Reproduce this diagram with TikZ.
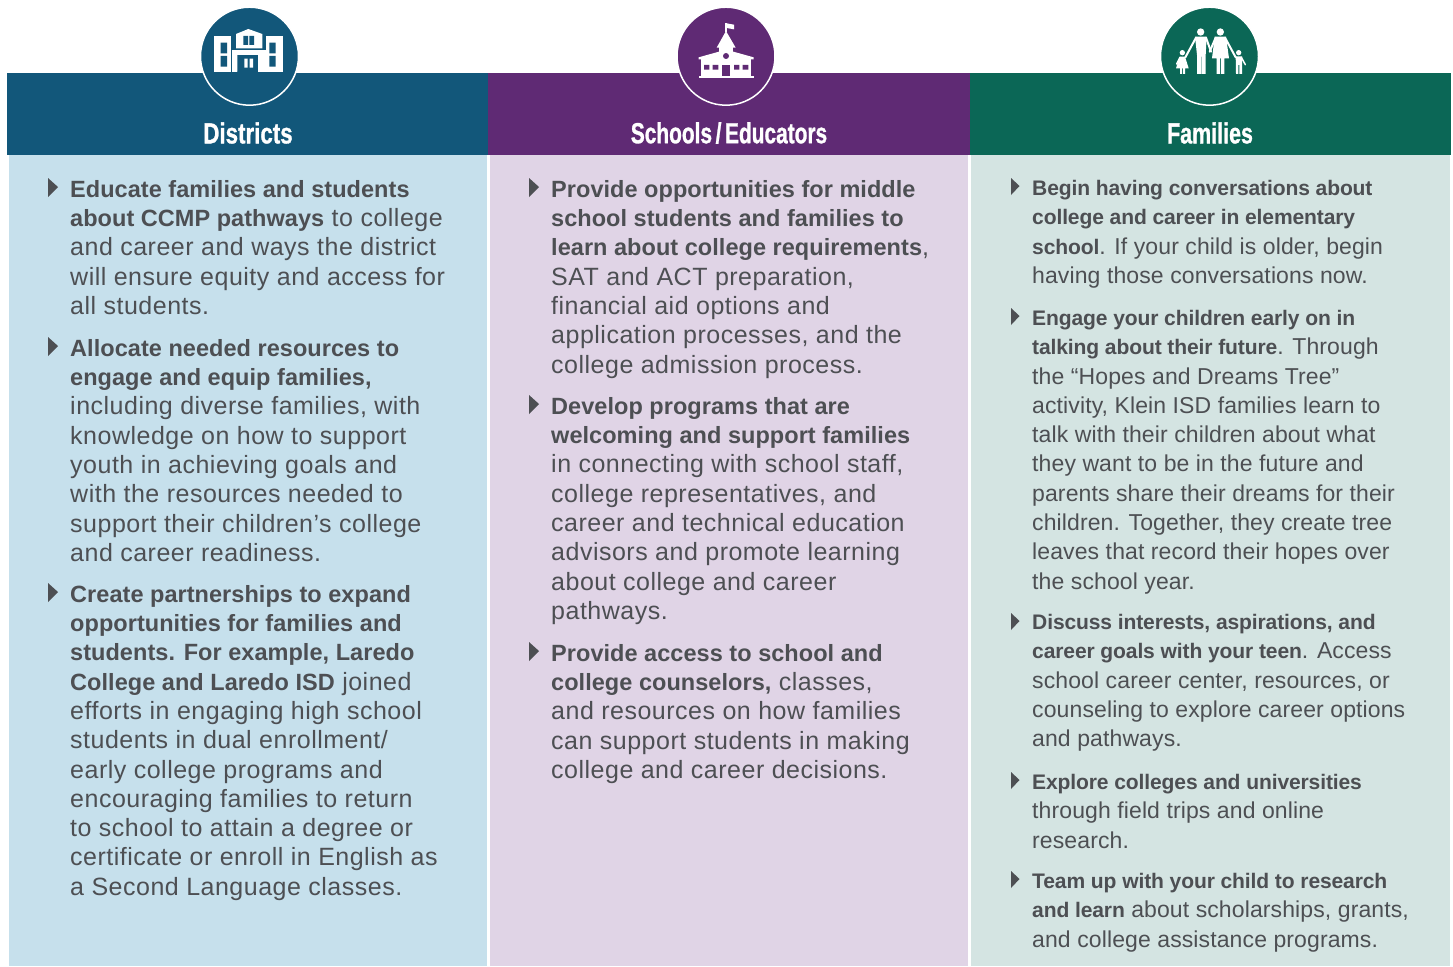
\documentclass[tikz,border=0pt]{standalone}
\usepackage{fontspec}
\setmainfont{Liberation Sans}[LetterSpace=2,BoldFeatures={LetterSpace=0.2,Scale=0.94}]
\newfontfamily\famC{Liberation Sans}[LetterSpace=0.5,BoldFeatures={LetterSpace=-0.6,Scale=0.915}]
\newfontfamily\famH{Liberation Sans Bold}[FakeBold=1.2]
\definecolor{barA}{HTML}{12577A}
\definecolor{barB}{HTML}{5F2A74}
\definecolor{barC}{HTML}{0B6756}
\definecolor{panA}{HTML}{C6E0EC}
\definecolor{panB}{HTML}{E0D4E6}
\definecolor{panC}{HTML}{D4E4E2}
\definecolor{ink}{HTML}{4D4F53}
\tikzset{
 itemA/.style={anchor=north west,inner sep=0pt,yshift=20pt,align=left,text=ink,font=\fontsize{25}{29.3}\selectfont,execute at begin node=\rule{0pt}{20pt}},
 itemC/.style={itemA,font=\famC\fontsize{23}{29.3}\selectfont},
 head/.style={text=white,inner sep=0pt,font=\famH\fontsize{29}{32}\selectfont},
 badge/.style={circle,minimum size=98pt,inner sep=0pt,draw=white,line width=1.5pt},
 tri/.style={fill=ink,draw=none},
 ico/.style={fill=white,draw=none},
}
\newcommand{\hd}[2]{\scalebox{#1}[1]{#2}}
\newcommand{\bul}[2]{\fill[tri] (#1,#2-10) -- (#1+10,#2-1) -- (#1,#2+9) -- cycle;}
\newcommand{\bulc}[2]{\fill[tri] (#1,#2-9) -- (#1+8.5,#2-1) -- (#1,#2+8) -- cycle;}
\begin{document}
\begin{tikzpicture}[x=1pt,y=-1pt]
\useasboundingbox (0,0) rectangle (1453,966);
\fill[white] (0,0) rectangle (1453,966);
% panels
\fill[panA] (9,155) rectangle (487,966);
\fill[panB] (490,155) rectangle (968,966);
\fill[panC] (971,155) rectangle (1450,966);
% bars
\fill[barA] (7,73) rectangle (488,155);
\fill[barB] (488,73) rectangle (970,155);
\fill[barC] (970,73) rectangle (1451,155);
% badges
\node[badge,fill=barA] (ba) at (249.5,56.2) {};
\node[badge,fill=barB] (bb) at (726,56.2) {};
\node[badge,fill=barC] (bc) at (1209.5,56.2) {};
% headings
\node[head] (ha) at (248,133) {\hd{.77}{Districts}};
\node[head] (hb) at (729,133) {\hd{.72}{Schools\hspace{5pt}/\hspace{5pt}Educators}};
\node[head] (hc) at (1210,133) {\hd{.74}{Families}};
% district icon
\begin{scope}[shift={(180,0)},scale=1/3]
\fill[ico] (103,108) rectangle (153,215);
\fill[ico] (258,108) rectangle (308,215);
\fill[barA] (122,128) rectangle (141,160) (122,168) rectangle (141,200);
\fill[barA] (268,128) rectangle (287,160) (268,168) rectangle (287,200);
\fill[ico] (168,102) -- (205,87) -- (247,102) -- (247,145) -- (168,145) -- cycle;
\fill[barA] (190,108) rectangle (204,135) (208,108) rectangle (222,135);
\fill[ico] (157,149) rectangle (258,215);
\fill[barA] (172,165) rectangle (235,215);
\fill[ico] (160,152) rectangle (172,215) (235,152) rectangle (255,215);
\fill[ico] (193,176) rectangle (203,203) (209,176) rectangle (219,203);
\end{scope}
% school icon
\begin{scope}[shift={(620,0)},scale=1/3]
\fill[ico] (316,68) rectangle (320,96);
\fill[ico] (320,70) -- (342,74) -- (342,88) -- (320,84) -- cycle;
\fill[ico] (318,93) -- (347,143) -- (290,143) -- cycle;
\fill[ico] (297,140) rectangle (340,160);
\fill[ico] (236,172) -- (297,155) -- (340,155) -- (401,172) -- (401,178) -- (236,178) -- cycle;
\fill[ico] (243,176) rectangle (393,228);
\fill[ico] (236,228) rectangle (401,234);
\fill[barB] (318,168) circle (9);
\fill[barB] (252,195) rectangle (268,209) (278,195) rectangle (295,209) (342,195) rectangle (358,209) (368,195) rectangle (385,209);
\fill[barB] (305,195) rectangle (330,228);
\end{scope}
% family icon
\begin{scope}[shift={(1140,0)},scale=1/3]
\fill[ico] (182,96) circle (11) (241,96) circle (11) (127,158) circle (8) (296,158) circle (8);
\fill[ico] (165,110) -- (200,110) -- (197,165) -- (197,222) -- (185,222) -- (185,170) -- (183,170) -- (183,222) -- (171,222) -- (171,165) -- cycle;
\fill[ico] (224,110) -- (258,110) -- (267,175) -- (253,175) -- (253,222) -- (243,222) -- (243,175) -- (240,175) -- (240,222) -- (230,222) -- (230,175) -- (216,175) -- cycle;
\draw[white,line width=2pt,line cap=round] (168,113) -- (136,172);
\draw[white,line width=2pt,line cap=round] (198,113) -- (213,155);
\draw[white,line width=2pt,line cap=round] (227,113) -- (209,155);
\draw[white,line width=2pt,line cap=round] (255,113) -- (287,172);
\fill[ico] (119,170) -- (135,170) -- (146,205) -- (135,205) -- (135,222) -- (129,222) -- (129,205) -- (126,205) -- (126,222) -- (120,222) -- (120,205) -- (108,205) -- cycle;
\draw[white,line width=1.5pt,line cap=round] (120,172) -- (110,192);
\fill[ico] (287,169) -- (306,169) -- (306,222) -- (298,222) -- (298,195) -- (295,195) -- (295,222) -- (288,222) -- cycle;
\draw[white,line width=1.5pt,line cap=round] (304,172) -- (316,194);
\end{scope}
% column A
\bul{48}{188}
\node[itemA] (a1) at (70,200) {\textbf{Educate families and students}\\\textbf{about CCMP pathways} to college\\and career and ways the district\\will ensure equity and access for\\all students.};
\bul{48}{347}
\node[itemA] (a2) at (70,359) {\textbf{Allocate needed resources to}\\\textbf{engage and equip families,}\\including diverse families, with\\knowledge on how to support\\youth in achieving goals and\\with the resources needed to\\support their children’s college\\and career readiness.};
\bul{48}{593}
\node[itemA] (a3) at (70,605) {\textbf{Create partnerships to expand}\\\textbf{opportunities for families and}\\\textbf{students. For example, Laredo}\\\textbf{College and Laredo ISD} joined\\efforts in engaging high school\\students in dual enrollment/\\early college programs and\\encouraging families to return\\to school to attain a degree or\\certificate or enroll in English as\\a Second Language classes.};
% column B
\bul{529}{188}
\node[itemA] (b1) at (551,200) {\textbf{Provide opportunities for middle}\\\textbf{school students and families to}\\\textbf{learn about college requirements},\\SAT and ACT preparation,\\financial aid options and\\application processes, and the\\college admission process.};
\bul{529}{405}
\node[itemA] (b2) at (551,417) {\textbf{Develop programs that are}\\\textbf{welcoming and support families}\\in connecting with school staff,\\college representatives, and\\career and technical education\\advisors and promote learning\\about college and career\\pathways.};
\bul{529}{652}
\node[itemA] (b3) at (551,664) {\textbf{Provide access to school and}\\\textbf{college counselors,} classes,\\and resources on how families\\can support students in making\\college and career decisions.};
% column C
\bulc{1011}{187}
\node[itemC] (c1) at (1032,200) {\textbf{Begin having conversations about}\\\textbf{college and career in elementary}\\\textbf{school}. If your child is older, begin\\having those conversations now.};
\bulc{1011}{317}
\node[itemC] (c2) at (1032,330) {\textbf{Engage your children early on in}\\\textbf{talking about their future}. Through\\the “Hopes and Dreams Tree”\\activity, Klein ISD families learn to\\talk with their children about what\\they want to be in the future and\\parents share their dreams for their\\children. Together, they create tree\\leaves that record their hopes over\\the school year.};
\bulc{1011}{622}
\node[itemC] (c3) at (1032,634) {\textbf{Discuss interests, aspirations, and}\\\textbf{career goals with your teen}. Access\\school career center, resources, or\\counseling to explore career options\\and pathways.};
\bulc{1011}{781}
\node[itemC] (c4) at (1032,794) {\textbf{Explore colleges and universities}\\through field trips and online\\research.};
\bulc{1011}{880}
\node[itemC] (c5) at (1032,893) {\textbf{Team up with your child to research}\\\textbf{and learn} about scholarships, grants,\\and college assistance programs.};
\end{tikzpicture}
\end{document}
